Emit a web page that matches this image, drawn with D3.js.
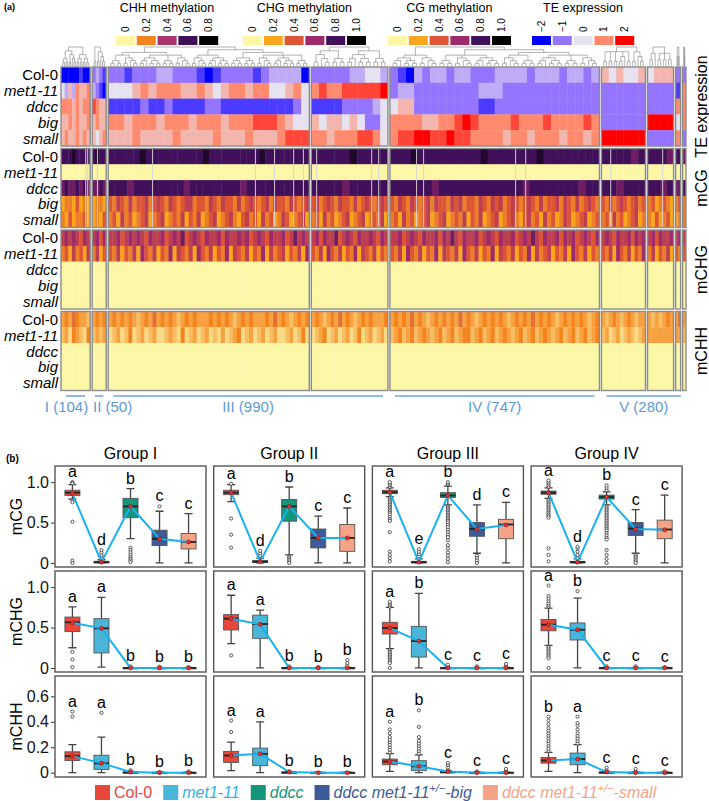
<!DOCTYPE html>
<html>
<head>
<meta charset="utf-8">
<script src="https://cdn.jsdelivr.net/npm/d3@7"></script>
<style>
  body { margin: 0; background: #fff; }
  svg { font-family: "Liberation Sans", Arial, sans-serif; }
</style>
</head>
<body>
<svg id="chart" width="709" height="801"></svg>
<script>
// ---------- data : (a) heatmap ----------
// TEs per dendrogram box, and the cluster group each box belongs to
const boxSizes = [104, 50, 717, 273, 747, 157, 93, 18, 12];
const boxGroup = [0, 1, 2, 2, 3, 4, 4, 4, 4];
const groupNames = ["I (104)", "II (50)", "III (990)", "IV (747)", "V (280)"];
const sampleNames = ["Col-0", "met1-11", "ddcc", "big", "small"];

// heat rows, one char per segment, boxes separated by "|"
// TE expression : value = d/2 - 2
const teRows = [
  "00000100|2321|2212223322210122221233330|2222233443|21032332332223333233323323|545445|4555|2|2",
  "43536556|3210|4445656665565456656644564|6766777778|23322222222333222222222222|222222|2222|1|6",
  "66656566|7655|1111211211112211111111124|1111222234|45522222222112222222222222|222222|2222|6|6",
  "55656556|5655|6656665666566656667776544|5455454224|66665566787666676667666676|222222|8888|4|6",
  "56556565|5456|5556555565555655565556777|6656667764|67788778776666566566656656|888888|2222|6|2"
];
// mCG : value = d/10
const cgRows = [
  "88898888|8988|88888988888888898888888898888888|8888898888|888988888888898888888988888888|888878|8887|8|7",
  "00000000|0000|00000000000000000000000000000000|0000000000|000000000000000000000000000000|000000|0000|0|0",
  "78778787|7787|88878888888878888888878888888888|8888788888|888888788888888888878888888788|887888|8878|7|8",
  "23324232|2332|43543534453454354345534435435443534543453544354345|45345435443534543454|4354354345354435453443543545345434543534453543534543|435345434534|3423432|34|3",
  "32423342|2324|34253423452345234352435234523453245342534235423452|34253423452345234352|3425342345234523435243523452345324534253423542345234|342534234523|3242342|23|3"
];
// mCHG : value = d/10
const chgRows = [
  "56565465|5646|55645656546556456574565465564655656456546556457565|56465574565465565465|5564565465564657546556456546556456575465564656456546|565465564656|5646556|56|5",
  "34253425|3524|43524352643524362543526435243625435243625345243526|43526435243625435243|4352643524362543526435243625435243625345243526435243|435264352436|3524352|43|4",
  "00000000|0000|00000000000000000000000000000000|0000000000|000000000000000000000000000000|000000|0000|0|0",
  "00000000|0000|00000000000000000000000000000000|0000000000|000000000000000000000000000000|000000|0000|0|0",
  "00000000|0000|00000000000000000000000000000000|0000000000|000000000000000000000000000000|000000|0000|0|0"
];
// mCHH : value = d/20
const chhRows = [
  "34354332|3434|34343432343534343234343334343432343433343534323434|34323435343234343334|3434353432343434353432343434323434353434323434343234|323432343233|3232343|35|3",
  "23143214|2323|12312412312311232141231231213123412312312311231241|12341231231241231231|2342342343234234234423423423432342342343234234234234|231231232123|3333333|3|2",
  "00000000|0000|00000000000000000000000000000000|0000000000|000000000000000000000000000000|000000|0000|0|0",
  "00000000|0000|00000000000000000000000000000000|0000000000|000000000000000000000000000000|000000|0000|0|0",
  "00000000|0000|00000000000000000000000000000000|0000000000|000000000000000000000000000000|000000|0000|0|0"
];
// TEs with no CG call (thin grey lines in the mCG block), TE index
const naCG = [86, 93, 121, 310, 677, 745, 813, 848, 888, 1084, 1109, 1237, 1262, 1590, 1626, 1922, 2100];

// dendrogram shapes, "." = leaf
const tP = "((..)(..))", tQ = "((..)(.(..)))", tR = "(((..).)((..)(..)))";
const dendroTrees = [
  `((${tP}${tQ})(${tP}${tP}))`,
  `((..)${tQ})`,
  `(((${tP}${tQ})(${tR}${tP}${tQ}))((${tQ}${tR})((${tP}${tP})(${tQ}${tR}${tP}))))`,
  `((${tQ}${tP})(${tR}${tP}))`,
  `((${tR}${tQ})((${tP}${tQ}${tR})((${tQ}${tP})(${tR}${tP}${tQ}))))`,
  `(((..)(..)(..)((..).)(..))${tQ})`,
  `(((..).)((..)(..)(..)))`,
  `((..)(..))`,
  `(..(..))`
];

// colour keys
const chhKeyVals = [0, 0.2, 0.4, 0.6, 0.8];
const chhKeyCols = ["#fbf7a6", "#f5841f", "#a8346d", "#3f0f57", "#000000"];
const methKeyVals = [0, 0.2, 0.4, 0.6, 0.8, 1.0];
const methKeyCols = ["#fbf7a6", "#f9a61c", "#de5535", "#9d2a6b", "#40105a", "#000000"];
const teKeyVals = [-2, -1, 0, 1, 2];
const teKeyCols = ["#0000ff", "#9575ff", "#e6e2ef", "#ff8a6e", "#ff0000"];

// ---------- data : (b) boxplots ----------
const genotypes = ["Col-0", "met1-11", "ddcc", "big", "small"];
const genoColors = ["#e8473b", "#48b5d9", "#14967c", "#3d5a99", "#f4a386"];
const genoTextColors = ["#e8473b", "#2fb3e6", "#14967c", "#3d5a99", "#f4a386"];
const groupTitles = ["Group I", "Group II", "Group III", "Group IV"];

// [low whisker, q1, median, q3, high whisker]
const mcgStats = [
  [[0.79, 0.836, 0.87, 0.90, 0.97], [0, 0, 0.01, 0.02, 0.04], [0.30, 0.56, 0.70, 0.80, 0.92], [0, 0.215, 0.30, 0.405, 0.64], [0, 0.174, 0.26, 0.364, 0.61]],
  [[0.76, 0.845, 0.87, 0.90, 0.97], [0, 0.005, 0.015, 0.03, 0.06], [0.10, 0.517, 0.70, 0.786, 0.94], [0, 0.186, 0.31, 0.42, 0.58], [0, 0.144, 0.31, 0.476, 0.68]],
  [[0.82, 0.857, 0.875, 0.90, 0.93], [0, 0, 0.01, 0.02, 0.05], [0.72, 0.81, 0.835, 0.87, 0.95], [0.12, 0.33, 0.42, 0.50, 0.72], [0, 0.30, 0.476, 0.54, 0.75]],
  [[0.80, 0.85, 0.87, 0.89, 0.93], [0, 0, 0.01, 0.02, 0.05], [0.72, 0.79, 0.815, 0.84, 0.88], [0.12, 0.34, 0.425, 0.50, 0.66], [0, 0.30, 0.414, 0.53, 0.84]]
];
const mcgMeans = [[0.86, 0.01, 0.70, 0.30, 0.26], [0.87, 0.015, 0.70, 0.31, 0.31], [0.875, 0.01, 0.835, 0.42, 0.47], [0.87, 0.01, 0.815, 0.42, 0.41]];
const mcgLetters = [["a", "d", "b", "c", "c"], ["a", "d", "b", "c", "c"], ["a", "e", "b", "d", "c"], ["a", "d", "b", "c", "c"]];
const mcgOutliers = [
  [[1.0, 0.99, 0.985, 0.77, 0.75, 0.51, 0.03, 0.0], [0.08, 0.1, 0.13, 0.16], [0.19, 0.16, 0.13, 0.10, 0.07, 0.05, 0.03, 0.01], [0.70], []],
  [[0.98, 0.55, 0.35, 0.19], [0.09, 0.12, 0.15], [0.08, 0.06, 0.04, 0.02, 0.0], [], []],
  [[0.94, 0.96, 0.98, 1.0, 0.80, 0.78, 0.76, 0.74, 0.72, 0.70, 0.68, 0.66, 0.64, 0.62, 0.60, 0.57, 0.54, 0.52, 0.38, 0.14, 0.10, 0.06, 0.02],
   [0.05, 0.08, 0.11, 0.14, 0.17],
   [0.97, 0.98, 1.0, 0.70, 0.68, 0.66, 0.64, 0.62, 0.60, 0.58, 0.56, 0.54, 0.52, 0.50, 0.47, 0.44, 0.41, 0.38, 0.35, 0.32, 0.28, 0.22, 0.18, 0.13, 0.09, 0.05, 0.01],
   [0.09, 0.06, 0.03, 0.0], []],
  [[0.94, 0.96, 0.98, 1.0, 1.02, 0.78, 0.76, 0.74, 0.72, 0.70, 0.68, 0.66, 0.64, 0.62, 0.60, 0.58, 0.56, 0.18, 0.10, 0.02],
   [0.06, 0.10, 0.14, 0.18, 0.20],
   [0.90, 0.93, 0.96, 0.70, 0.68, 0.66, 0.64, 0.62, 0.60, 0.58, 0.56, 0.54, 0.52, 0.50, 0.48, 0.46, 0.44, 0.42, 0.40, 0.37, 0.34, 0.31, 0.29, 0.16, 0.10, 0.05, 0.0],
   [0.10, 0.08, 0.06, 0.04, 0.02, 0.0], []]
];

const mchgStats = [
  [[0.25, 0.45, 0.565, 0.63, 0.755], [0.01, 0.186, 0.49, 0.61, 0.873], [0, 0, 0, 0.003, 0.006], [0, 0, 0, 0.003, 0.006], [0, 0, 0, 0.003, 0.006]],
  [[0.30, 0.47, 0.61, 0.66, 0.90], [0, 0.367, 0.544, 0.654, 0.717], [0, 0, 0, 0.003, 0.006], [0, 0, 0, 0.003, 0.006], [0, 0, 0, 0.003, 0.006]],
  [[0.24, 0.42, 0.494, 0.565, 0.75], [0, 0.135, 0.333, 0.515, 0.924], [0, 0, 0, 0.003, 0.006], [0, 0, 0, 0.003, 0.006], [0, 0, 0, 0.003, 0.006]],
  [[0.28, 0.46, 0.536, 0.60, 0.74], [0, 0.346, 0.473, 0.557, 0.865], [0, 0, 0, 0.003, 0.006], [0, 0, 0, 0.003, 0.006], [0, 0, 0, 0.003, 0.006]]
];
const mchgMeans = [[0.56, 0.49, 0, 0, 0], [0.61, 0.54, 0, 0, 0], [0.494, 0.333, 0, 0, 0], [0.536, 0.473, 0, 0, 0]];
const mchgLetters = [["a", "a", "b", "b", "b"], ["a", "a", "b", "b", "b"], ["a", "b", "c", "c", "c"], ["a", "b", "c", "c", "c"]];
const mchgOutliers = [
  [[0.2, 0.105, 0.01], [], [0.02], [0.015], [0.01]],
  [[0.156], [], [0.02], [0.01], [0.03, 0.06, 0.1]],
  [[0.76, 0.78, 0.80, 0.82, 0.22, 0.2, 0.18, 0.16, 0.14, 0.12, 0.1, 0.08, 0.06, 0.0], [], [0.02, 0.04], [0.02], [0.02, 0.05]],
  [[0.76, 0.78, 0.80, 0.83, 0.86, 0.89, 1.02, 0.26, 0.24, 0.22, 0.2, 0.18, 0.16, 0.14, 0.12, 0.0], [0.95], [0.02], [0.02], [0.01]]
];

const mchhStats = [
  [[0, 0.096, 0.13, 0.164, 0.22], [0, 0.026, 0.073, 0.137, 0.28], [0, 0, 0.002, 0.005, 0.01], [0, 0, 0, 0.002, 0.004], [0, 0, 0, 0.002, 0.004]],
  [[0.016, 0.08, 0.135, 0.167, 0.24], [0, 0.055, 0.148, 0.193, 0.40], [0, 0, 0.002, 0.005, 0.01], [0, 0, 0, 0.002, 0.004], [0, 0, 0, 0.002, 0.004]],
  [[0.01, 0.0625, 0.088, 0.107, 0.15], [0, 0.016, 0.05, 0.094, 0.14], [0, 0, 0.004, 0.008, 0.015], [0, 0, 0, 0.002, 0.004], [0, 0, 0, 0.002, 0.004]],
  [[0.01, 0.075, 0.096, 0.12, 0.16], [0, 0.0625, 0.107, 0.154, 0.22], [0, 0, 0.002, 0.005, 0.01], [0, 0, 0, 0.002, 0.004], [0, 0, 0, 0.002, 0.004]]
];
const mchhMeans = [[0.13, 0.075, 0.005, 0, 0], [0.135, 0.148, 0.005, 0, 0], [0.088, 0.05, 0.01, 0, 0], [0.096, 0.107, 0.005, 0, 0]];
const mchhLetters = [["a", "a", "b", "b", "b"], ["a", "a", "b", "b", "b"], ["a", "b", "c", "c", "c"], ["b", "a", "c", "c", "c"]];
const mchhOutliers = [
  [[0.48, 0.44], [0.47], [0.02], [0.005], [0.01]],
  [[0.32, 0.41], [], [0.01], [], []],
  [[0.16, 0.18, 0.2, 0.22, 0.24, 0.26, 0.28, 0.31, 0.34, 0.40], [0.15, 0.17, 0.19, 0.21, 0.23, 0.25, 0.28, 0.36, 0.49], [0.02, 0.04, 0.06, 0.075], [0.01], [0.01, 0.03]],
  [[0.17, 0.19, 0.21, 0.23, 0.25, 0.27, 0.29, 0.31, 0.33, 0.35, 0.38, 0.41, 0.44], [0.23, 0.25, 0.27, 0.29, 0.31, 0.34, 0.37, 0.39, 0.44], [0.02, 0.04], [0.01, 0.03], [0.01]]
];

// ---------- drawing ----------
const svg = d3.select("#chart");

const teColor = d3.scaleLinear().domain(teKeyVals).range(teKeyCols).clamp(true);
const methColor = d3.scaleLinear().domain(methKeyVals).range(methKeyCols).clamp(true);
const chhColor = d3.scaleLinear().domain(chhKeyVals).range(chhKeyCols).clamp(true);

svg.append("text").attr("x", 4).attr("y", 10)
  .attr("font-size", 9).attr("font-weight", "bold").text("(a)");

// colour keys on top
const keys = [
  { title: "CHH methylation", x: 116, vals: chhKeyVals, color: chhColor },
  { title: "CHG methylation", x: 243, vals: methKeyVals, color: methColor },
  { title: "CG methylation", x: 388, vals: methKeyVals, color: methColor },
  { title: "TE expression", x: 532, vals: teKeyVals, color: teColor }
];
const keyStep = 20.8, keyW = 19;
keys.forEach((k, ki) => {
  const g = svg.append("g").attr("transform", `translate(${k.x},0)`);
  g.append("text")
    .attr("x", k.vals.length * keyStep / 2 - 1)
    .attr("y", 12)
    .attr("text-anchor", "middle")
    .attr("font-size", 12.5)
    .text(k.title);
  k.vals.forEach((v, i) => {
    g.append("rect")
      .attr("x", i * keyStep).attr("y", 36)
      .attr("width", keyW).attr("height", 9)
      .attr("fill", k.color(v));
    const lab = ki === 3 ? d3.format("d")(v) : (v === 0 ? "0" : d3.format(".1f")(v));
    g.append("text")
      .attr("transform", `translate(${i * keyStep + keyW / 2},32) rotate(-90)`)
      .attr("text-anchor", "start")
      .attr("dominant-baseline", "central")
      .attr("font-size", 10)
      .text(lab);
  });
});

// heatmap geometry
const hmLeft = 61, hmRight = 686, boxGap = 2;
const blockTop = 67, blockStep = 81.5, blockH = 79, rowH = blockH / 5;
const dendroTop = 47, dendroBot = 66;

const pxPerTE = (hmRight - hmLeft - boxGap * (boxSizes.length - 1)) / d3.sum(boxSizes);
const boxStart = [0, ...d3.cumsum(boxSizes)];
const boxScales = boxSizes.map((n, b) => {
  const x0 = hmLeft + boxStart[b] * pxPerTE + b * boxGap;
  return d3.scaleLinear().domain([boxStart[b], boxStart[b + 1]]).range([x0, x0 + n * pxPerTE]);
});

const blocks = [
  { label: "TE expression", rows: teRows, color: teColor, decode: d => d / 2 - 2 },
  { label: "mCG", rows: cgRows, color: methColor, decode: d => d / 10 },
  { label: "mCHG", rows: chgRows, color: methColor, decode: d => d / 10 },
  { label: "mCHH", rows: chhRows, color: chhColor, decode: d => d / 20 }
];

const heat = svg.append("g");
blocks.forEach((blk, bi) => {
  const top = blockTop + bi * blockStep;
  blk.rows.forEach((rowStr, ri) => {
    const y0 = top + ri * rowH;
    rowStr.split("|").forEach((seg, b) => {
      const [x0, x1] = boxScales[b].range();
      const w = (x1 - x0) / seg.length;
      heat.selectAll(null)
        .data(seg.split(""))
        .enter().append("rect")
        .attr("x", (c, j) => x0 + j * w)
        .attr("y", y0)
        .attr("width", (c, j) => j === seg.length - 1 ? w : w + 0.4)
        .attr("height", rowH + 0.3)
        .attr("fill", c => blk.color(blk.decode(+c)));
    });
    // row labels
    svg.append("text")
      .attr("x", 58).attr("y", y0 + rowH / 2)
      .attr("text-anchor", "end")
      .attr("dominant-baseline", "central")
      .attr("font-size", 15)
      .attr("font-style", ri === 0 ? "normal" : "italic")
      .text(sampleNames[ri]);
  });
  if (bi === 1) {
    naCG.forEach(idx => {
      const b = Math.min(d3.bisectRight(boxStart, idx) - 1, boxSizes.length - 1);
      heat.append("rect")
        .attr("x", boxScales[b](idx)).attr("y", top)
        .attr("width", 1.1).attr("height", blockH)
        .attr("fill", "#d9d4d6").attr("opacity", 0.85);
    });
  }
  boxScales.forEach(s => {
    const [x0, x1] = s.range();
    heat.append("rect")
      .attr("x", x0).attr("y", top)
      .attr("width", x1 - x0).attr("height", blockH)
      .attr("fill", "none").attr("stroke", "#8c8c8c").attr("stroke-width", 1.4);
  });
  svg.append("text")
    .attr("transform", `translate(701,${top + blockH / 2}) rotate(-90)`)
    .attr("text-anchor", "middle")
    .attr("dominant-baseline", "central")
    .attr("font-size", 16)
    .text(blk.label);
});

// dendrograms
function parseTree(s) {
  const root = { children: [] };
  const stack = [root];
  for (const ch of s) {
    if (ch === "(") {
      const n = { children: [] };
      stack[stack.length - 1].children.push(n);
      stack.push(n);
    } else if (ch === ")") {
      if (stack.length > 1) stack.pop();
    } else if (ch === ".") {
      stack[stack.length - 1].children.push({});
    }
  }
  return root.children[0];
}

const dendro = svg.append("g").attr("fill", "none").attr("stroke", "#8a8a8a").attr("stroke-width", 0.65);
dendroTrees.forEach((str, b) => {
  const [x0, x1] = boxScales[b].range();
  const root = d3.hierarchy(parseTree(str), d => d.children && d.children.length ? d.children : null);
  d3.cluster().size([x1 - x0 - 2, 1]).separation(() => 1)(root);
  const yS = d3.scaleLinear().domain([0, root.height]).range([dendroBot, dendroTop]);
  const segs = [];
  root.descendants().forEach(n => {
    if (!n.children) return;
    const ny = yS(n.height);
    const xs = n.children.map(c => c.x);
    segs.push(`M${x0 + 1 + d3.min(xs)},${ny}H${x0 + 1 + d3.max(xs)}`);
    n.children.forEach(c => segs.push(`M${x0 + 1 + c.x},${yS(c.height)}V${ny}`));
  });
  dendro.append("path").attr("d", segs.join(""));
});

// cluster group labels
const groupColor = "#5b9bd5";
groupNames.forEach((name, g) => {
  const bs = boxGroup.map((v, i) => v === g ? i : -1).filter(i => i >= 0);
  const xa = boxScales[bs[0]].range()[0];
  const xb = boxScales[bs[bs.length - 1]].range()[1];
  const inset = Math.min(5, (xb - xa) * 0.2);
  const la = xa + inset, lb = xb - inset;
  svg.append("line")
    .attr("x1", la).attr("x2", lb).attr("y1", 396).attr("y2", 396)
    .attr("stroke", "#6fa8dc").attr("stroke-width", 1.6);
  const anchor = g === 0 ? "end" : g === 1 ? "start" : "middle";
  const tx = g === 0 ? lb + 3 : g === 1 ? la - 2 : (la + lb) / 2;
  svg.append("text")
    .attr("x", tx).attr("y", 412)
    .attr("text-anchor", anchor)
    .attr("font-size", 15)
    .attr("fill", groupColor)
    .text(name);
});

// ---------- (b) boxplots ----------
svg.append("text").attr("x", 6).attr("y", 462)
  .attr("font-size", 10).attr("font-weight", "bold").text("(b)");

const panelLeft0 = 55, panelStep = 158.7, panelW = 151;
const rowTop0 = 466, rowStep = 105, panelH = 101;

const boxRows = [
  { name: "mCG", stats: mcgStats, means: mcgMeans, letters: mcgLetters, outl: mcgOutliers, dom: [-0.05, 1.2], ticks: [0, 0.5, 1] },
  { name: "mCHG", stats: mchgStats, means: mchgMeans, letters: mchgLetters, outl: mchgOutliers, dom: [-0.05, 1.2], ticks: [0, 0.5, 1] },
  { name: "mCHH", stats: mchhStats, means: mchhMeans, letters: mchhLetters, outl: mchhOutliers, dom: [-0.034, 0.76], ticks: [0, 0.2, 0.4, 0.6] }
];

groupTitles.forEach((t, g) => {
  svg.append("text")
    .attr("x", panelLeft0 + g * panelStep + panelW / 2)
    .attr("y", 459)
    .attr("text-anchor", "middle")
    .attr("font-size", 16)
    .text(t);
});

const boxW = 15, capW = 8;
boxRows.forEach((row, r) => {
  const top = rowTop0 + r * rowStep;
  const y = d3.scaleLinear().domain(row.dom).range([top + panelH, top]);

  // y axis on the first column
  const ax = svg.append("g")
    .attr("transform", `translate(${panelLeft0},0)`)
    .call(d3.axisLeft(y).tickValues(row.ticks).tickSize(4).tickPadding(2)
      .tickFormat(v => v === 0 ? "0" : d3.format(".1f")(v)));
  ax.select(".domain").remove();
  ax.selectAll("line").attr("stroke", "#333");
  ax.selectAll("text").attr("font-size", 16).attr("font-family", "'Liberation Sans', Arial, sans-serif").attr("fill", "#111");

  svg.append("text")
    .attr("transform", `translate(16,${top + panelH / 2}) rotate(-90)`)
    .attr("text-anchor", "middle")
    .attr("dominant-baseline", "central")
    .attr("font-size", 16)
    .text(row.name);

  groupTitles.forEach((t, g) => {
    const left = panelLeft0 + g * panelStep;
    const x = d3.scalePoint().domain(genotypes).range([left, left + panelW]).padding(0.6);
    const pg = svg.append("g");

    genotypes.forEach((geno, k) => {
      const [lo, q1, med, q3, hi] = row.stats[g][k];
      const cx = x(geno);
      pg.append("path")
        .attr("d", `M${cx},${y(lo)}V${y(q1)}M${cx},${y(q3)}V${y(hi)}` +
          `M${cx - capW / 2},${y(lo)}H${cx + capW / 2}M${cx - capW / 2},${y(hi)}H${cx + capW / 2}`)
        .attr("stroke", "#444").attr("stroke-width", 1.3).attr("fill", "none");
      pg.append("rect")
        .attr("x", cx - boxW / 2).attr("y", y(q3))
        .attr("width", boxW).attr("height", Math.max(y(q1) - y(q3), 1.2))
        .attr("fill", genoColors[k]).attr("stroke", "#555").attr("stroke-width", 0.9);
      pg.append("line")
        .attr("x1", cx - boxW / 2).attr("x2", cx + boxW / 2)
        .attr("y1", y(med)).attr("y2", y(med))
        .attr("stroke", "#222").attr("stroke-width", 1.8);
      pg.selectAll(null)
        .data(row.outl[g][k])
        .enter().append("circle")
        .attr("cx", cx).attr("cy", v => y(v)).attr("r", 1.6)
        .attr("fill", "#fff").attr("stroke", "#333").attr("stroke-width", 0.8);
    });

    const means = row.means[g];
    pg.append("path")
      .datum(genotypes)
      .attr("d", d3.line().x(d => x(d)).y((d, i) => y(means[i])))
      .attr("fill", "none").attr("stroke", "#19b2ee").attr("stroke-width", 2);
    pg.selectAll(null)
      .data(genotypes)
      .enter().append("circle")
      .attr("cx", d => x(d)).attr("cy", (d, i) => y(means[i])).attr("r", 2)
      .attr("fill", "#e8312a").attr("stroke", "#7a1a14").attr("stroke-width", 0.6);

    genotypes.forEach((geno, k) => {
      const topVal = d3.max([row.stats[g][k][4], ...row.outl[g][k]]);
      pg.append("text")
        .attr("x", x(geno)).attr("y", y(topVal) - 5)
        .attr("text-anchor", "middle")
        .attr("font-size", 16)
        .text(row.letters[g][k]);
    });

    pg.append("rect")
      .attr("x", left).attr("y", top)
      .attr("width", panelW).attr("height", panelH)
      .attr("fill", "none").attr("stroke", "#555").attr("stroke-width", 1.4);
  });
});

// genotype legend
const legendParts = [
  [["Col-0", false]],
  [["met1-11", false]],
  [["ddcc", false]],
  [["ddcc met1-11", false], ["+/\u2212", true], ["-big", false]],
  [["ddcc met1-11", false], ["+/\u2212", true], ["-small", false]]
];
let lx = 95;
legendParts.forEach((parts, k) => {
  svg.append("rect")
    .attr("x", lx).attr("y", 785)
    .attr("width", 15).attr("height", 15)
    .attr("fill", genoColors[k]);
  const t = svg.append("text")
    .attr("x", lx + 19).attr("y", 798)
    .attr("font-size", 16)
    .attr("fill", genoTextColors[k])
    .attr("font-style", k === 0 ? "normal" : "italic");
  parts.forEach(([s, sup]) => {
    const ts = t.append("tspan").text(s);
    if (sup) ts.attr("font-size", 11).attr("dy", -6);
    else if (s.startsWith("-")) ts.attr("dy", 6);
  });
  lx += 19 + t.node().getComputedTextLength() + 11;
});
</script>
</body>
</html>
